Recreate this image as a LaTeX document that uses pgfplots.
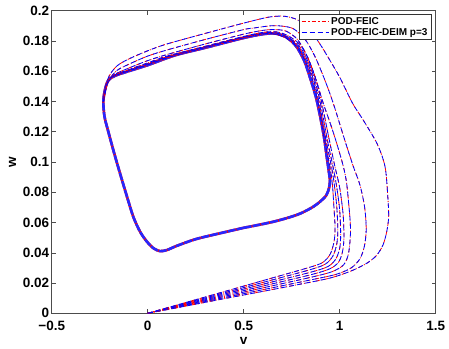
\documentclass[border=0pt]{standalone}
\usepackage{fontspec}
\setmainfont{Liberation Sans}
\usepackage{pgfplots}
\usepackage{pgfplotstable}
\pgfplotsset{compat=1.18}

% limit cycle
\pgfplotstableread{
v w
0.5 0.0565
0.654 0.0605
0.776 0.065
0.85 0.0695
0.897 0.0737
0.93 0.078
0.945 0.083
0.949 0.088
0.942 0.095
0.932 0.104
0.915 0.119
0.88 0.141
0.845 0.156
0.815 0.167
0.776 0.176
0.73 0.182
0.689 0.1842
0.654 0.185
0.6 0.1845
0.5 0.182
0.3 0.1755
0.142 0.1705
0 0.164
-0.1 0.160
-0.17 0.157
-0.205 0.154
-0.222 0.148
-0.231 0.140
-0.225 0.13
-0.205 0.12
-0.175 0.106
-0.144 0.0924
-0.11 0.078
-0.075 0.0638
-0.04 0.054
-0.005 0.0475
0.03 0.043
0.064 0.0411
0.1 0.0418
0.15 0.0445
0.25 0.049
0.38 0.053
0.5 0.0565
}\cyc

% transients from (0,0), outermost first
\pgfplotstableread{
v w
0 0
0.2 0.0048
0.4 0.0097
0.6 0.0145
0.8 0.0194
0.95 0.0233
1.06 0.028
1.14 0.033
1.19 0.038
1.225 0.045
1.245 0.054
1.255 0.064
1.25 0.078
1.236 0.097
1.195 0.112
1.123 0.1276
1.068 0.1386
1.0 0.156
0.95 0.167
0.897 0.178
0.84 0.188
0.78 0.194
0.72 0.1962
0.68 0.1964
0.62 0.1955
0.5 0.1918
0.3 0.185
0.1 0.178
0 0.1735
-0.1 0.168
-0.16 0.1635
-0.2 0.157
-0.222 0.149
-0.231 0.140
}\trA

\pgfplotstableread{
v w
0 0
0.3 0.0078
0.6 0.0156
0.85 0.0221
0.98 0.0257
1.06 0.030
1.105 0.036
1.128 0.044
1.138 0.055
1.13 0.07
1.105 0.085
1.071 0.097
1.025 0.115
0.967 0.1386
0.92 0.155
0.87 0.17
0.82 0.181
0.76 0.188
0.7 0.1898
0.64 0.190
0.55 0.1885
0.5 0.1875
0.3 0.181
0.1 0.174
0 0.170
-0.1 0.1645
-0.16 0.1605
-0.2 0.1545
-0.222 0.147
-0.231 0.140
}\trB

\pgfplotstableread{
v w
0 0
0.3 0.0084
0.6 0.0168
0.85 0.0238
0.96 0.0275
1.02 0.032
1.045 0.039
1.055 0.05
1.055 0.06
1.045 0.075
1.035 0.087
1.019 0.097
0.99 0.11
0.955 0.124
0.915 0.1386
0.875 0.155
0.83 0.17
0.78 0.181
0.72 0.1865
0.66 0.1875
0.6 0.187
0.5 0.1845
0.3 0.178
0.1 0.171
0 0.167
-0.1 0.162
-0.17 0.158
-0.205 0.1535
-0.224 0.147
-0.231 0.140
}\trC

\pgfplotstableread{
v w
0 0
0.3 0.009
0.6 0.018
0.85 0.0255
0.95 0.0295
0.995 0.034
1.015 0.041
1.022 0.05
1.018 0.065
1.0 0.083
0.975 0.097
0.945 0.115
0.905 0.14
0.87 0.157
0.83 0.17
0.79 0.178
0.73 0.1835
0.67 0.186
0.6 0.1857
0.5 0.183
0.3 0.1765
0.1 0.170
0 0.1655
-0.1 0.161
-0.17 0.1575
-0.21 0.152
-0.231 0.140
}\trD

\pgfplotstableread{
v w
0 0
0.3 0.0096
0.6 0.0192
0.85 0.0272
0.94 0.031
0.98 0.036
1.0 0.043
1.005 0.052
1.0 0.068
0.985 0.083
0.965 0.097
0.935 0.115
0.898 0.14
0.863 0.157
0.822 0.17
0.78 0.178
0.72 0.183
0.66 0.1855
0.6 0.1852
0.5 0.1825
0.3 0.176
0.1 0.1695
0 0.165
-0.1 0.1605
-0.17 0.1572
-0.208 0.1535
-0.231 0.140
}\trE

\pgfplotstableread{
v w
0 0
0.3 0.0102
0.6 0.0204
0.84 0.0286
0.925 0.0325
0.965 0.038
0.985 0.046
0.99 0.055
0.985 0.07
0.972 0.085
0.957 0.097
0.928 0.115
0.892 0.14
0.857 0.157
0.815 0.17
0.775 0.1775
0.71 0.1828
0.65 0.185
0.6 0.1848
0.5 0.1822
0.3 0.1758
0.1 0.169
0 0.1645
-0.1 0.1603
-0.17 0.157
-0.206 0.1538
-0.231 0.140
}\trF

\pgfplotstableread{
v w
0 0
0.3 0.0108
0.6 0.0216
0.83 0.0299
0.91 0.0335
0.95 0.039
0.97 0.047
0.976 0.056
0.97 0.07
0.962 0.085
0.949 0.097
0.92 0.115
0.886 0.14
0.852 0.157
0.81 0.1695
0.77 0.177
0.71 0.1825
0.65 0.1848
0.6 0.1846
0.5 0.182
0.3 0.1756
0.1 0.1688
0 0.1642
-0.1 0.1601
-0.17 0.157
-0.205 0.154
-0.231 0.140
}\trG

\pgfplotsset{
  pod/.style={red, line width=0.8pt, smooth, tension=0.5,
    dash pattern=on 4pt off 2pt on 1pt off 2pt},
  deim/.style={blue, line width=0.8pt, smooth, tension=0.5,
    dash pattern=on 5pt off 3pt},
}

\begin{document}
\begin{tikzpicture}
\begin{axis}[
    name=ax,
    scale only axis,
    width=384pt, height=302.6pt,
    xmin=-0.5, xmax=1.5, ymin=0, ymax=0.2,
    xtick={-0.5,0,0.5,1,1.5},
    xticklabels={−0.5,0,0.5,1,1.5},
    ytick={0,0.02,0.04,0.06,0.08,0.1,0.12,0.14,0.16,0.18,0.2},
    yticklabels={0,0.02,0.04,0.06,0.08,0.1,0.12,0.14,0.16,0.18,0.2},
    tick align=inside,
    major tick length=4pt,
    tick style={color=black!70, line width=0.5pt},
    axis line style={color=black!70, line width=0.6pt},
    every tick label/.append style={font=\fontsize{13.5}{15}\selectfont\bfseries},
    yticklabel style={xshift=1pt},
    xticklabel style={yshift=-4pt},
    label style={font=\fontsize{13.5}{15}\selectfont\bfseries},
    xlabel={v}, ylabel={w},
    legend cell align=left,
    legend style={at={(rel axis cs:0.9896,0.989)}, anchor=north east,
      font=\fontsize{10}{11}\selectfont\bfseries, draw=black!80,
      inner xsep=2pt, inner ysep=1pt, row sep=-1.5pt},
]
\addplot[red, line width=2.6pt, smooth, tension=0.5, forget plot] table {\cyc};
\addplot[blue!85!white, line width=2.6pt, smooth, tension=0.5, dash pattern=on 8pt off 1pt, forget plot] table {\cyc};

\addplot[pod, forget plot] table {\trA};
\addplot[deim, forget plot] table {\trA};
\addplot[pod, forget plot] table {\trB};
\addplot[deim, forget plot] table {\trB};
\addplot[pod, forget plot] table {\trC};
\addplot[deim, forget plot] table {\trC};
\addplot[pod, forget plot] table {\trD};
\addplot[deim, forget plot] table {\trD};
\addplot[pod, forget plot] table {\trE};
\addplot[deim, forget plot] table {\trE};
\addplot[pod, forget plot] table {\trF};
\addplot[deim, forget plot] table {\trF};
\addplot[pod, forget plot] table {\trG};
\addplot[deim, forget plot] table {\trG};

\addlegendimage{legend image code/.code={\draw[red, line width=1pt, dash pattern=on 4.5pt off 2pt on 1.5pt off 2pt] (0pt,0pt) -- (27pt,0pt);}}
\addlegendentry{POD-FEIC}
\addlegendimage{legend image code/.code={\draw[blue, line width=1pt, dash pattern=on 5pt off 3pt] (0pt,0pt) -- (27pt,0pt);}}
\addlegendentry{POD-FEIC-DEIM p=3}
\end{axis}
\pgfresetboundingbox
\path[use as bounding box] ([xshift=-51.7pt,yshift=-35.7pt]ax.south west)
  rectangle ([xshift=13.3pt,yshift=10.7pt]ax.north east);
\end{tikzpicture}
\end{document}
